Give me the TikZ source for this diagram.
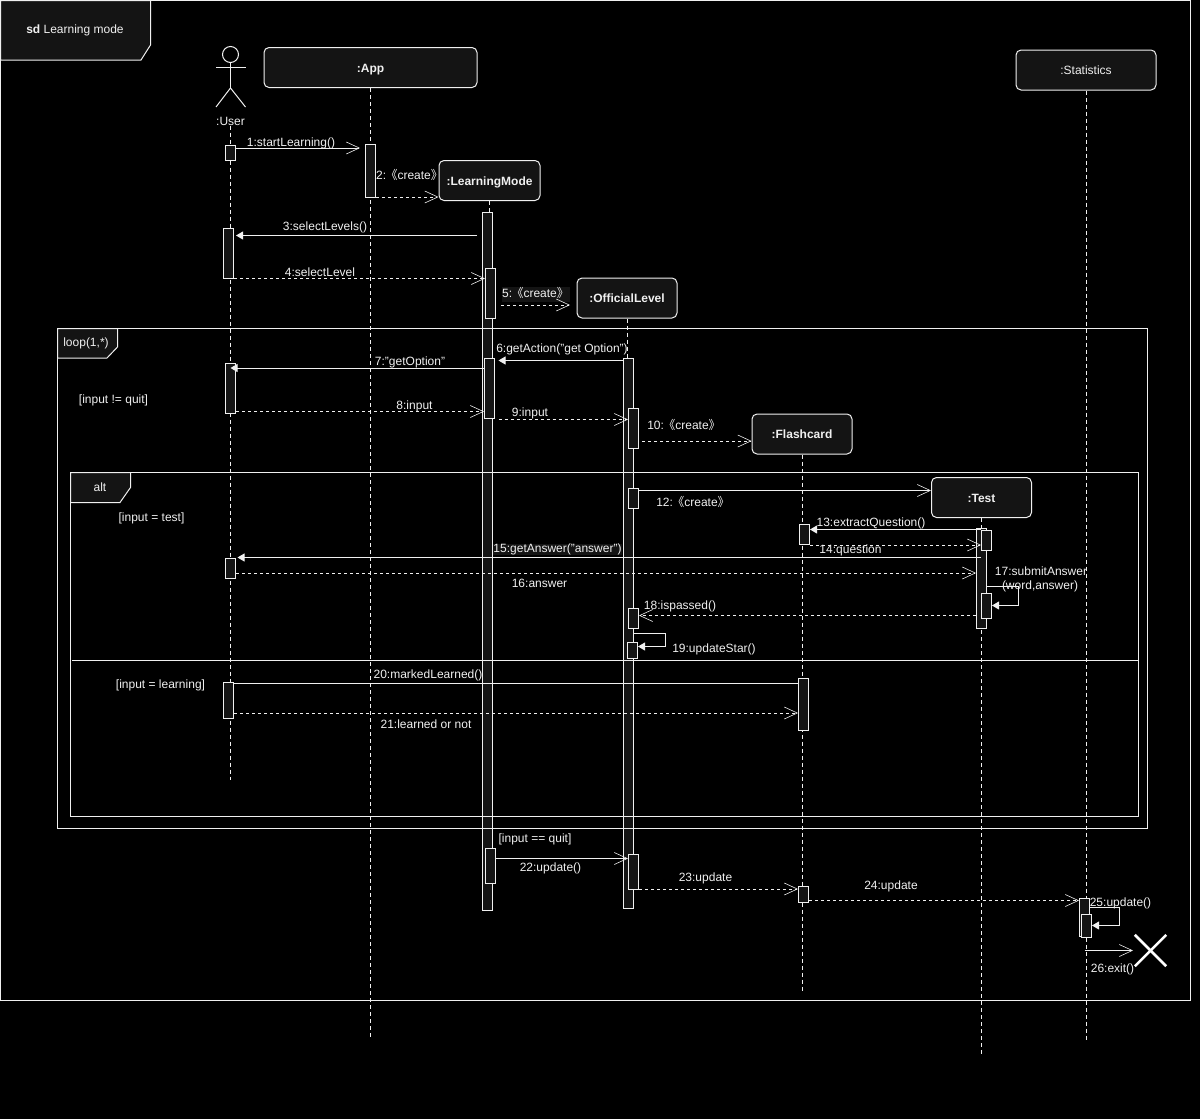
\documentclass[tikz,border=0pt]{standalone}
\usepackage{fontspec}
\setmainfont{Liberation Sans}
\newfontfamily\cjk{Noto Sans CJK SC}
\usetikzlibrary{arrows.meta}
\usetikzlibrary{positioning}
\definecolor{panel}{HTML}{141414}
\definecolor{ink}{HTML}{F0F0F0}
\newcommand{\crt}{\kern-5pt{\cjk《}create{\cjk》}}
\tikzset{
  head/.style={rectangle, rounded corners=5pt, draw=ink, fill=panel, text=ink, line width=1pt,
    font=\fontsize{12}{14}\selectfont\bfseries, inner sep=0pt, text height=9.2pt, text depth=0pt},
  actbar/.style={rectangle, draw=ink, fill=panel, minimum width=10pt, inner sep=0pt, line width=1pt},
  lbl/.style={text=ink, font=\fontsize{12}{14}\selectfont, inner sep=0pt, yshift=-0.7pt},
  lifeline/.style={draw=ink, dash pattern=on 4pt off 3pt, line width=0.8pt},
  sync/.style={draw=ink, line width=1pt, -{Triangle[length=7pt,width=8pt,fill=ink]}},
  async/.style={draw=ink, line width=1pt, -{Straight Barb[length=13pt,width=12pt,line width=0.6pt]}},
  reply/.style={async, dash pattern=on 3pt off 3pt},
  frame/.style={draw=ink, line width=1pt},
  tab/.style={draw=ink, fill=panel, line width=1pt},
}
\begin{document}
\begin{tikzpicture}[x=1pt, y=-1pt]
  \useasboundingbox[fill=black] (0,0) rectangle (1200,1119);
  % participants
  \node[head, minimum width=213pt, minimum height=40pt] (app) at (370.5,67.5) {:App};
  \node[head, minimum width=101pt, minimum height=40pt] (mode) at (489.5,180.5) {:LearningMode};
  \node[head, minimum width=100pt, minimum height=40pt] (level) at (627,298) {:OfficialLevel};
  \node[head, minimum width=100pt, minimum height=40pt] (card) at (802,434) {:Flashcard};
  \node[head, minimum width=100pt, minimum height=40pt] (test) at (981.5,497.5) {:Test};
  \node[head, minimum width=140pt, minimum height=40pt, font=\fontsize{12}{14}\selectfont] (stats) at (1086,70) {:Statistics};
  % actor
  \node[circle, draw=ink, line width=1pt, minimum size=16pt, inner sep=0pt] (userhead) at (230.5,54.5) {};
  \coordinate (userneck) at (230.5,88);
  \draw[frame] (userhead.south) -- (userneck);
  \draw[frame] (216,67) -- (245.5,67);
  \draw[frame] (216,107) -- (userneck) -- (245.5,107);
  \node[lbl] (user) at (230.5,120.5) {:User};
  % lifeline ends
  \coordinate (userend) at (230,780);
  \coordinate (append) at (370.5,1037);
  \coordinate (modeend) at (489.5,212);
  \coordinate (levelend) at (627,358);
  \coordinate (cardend) at (802,992);
  \coordinate (testend) at (981.5,1055);
  \coordinate (statsend) at (1086,1040);
  \draw[lifeline] (user.south -| userend) -- (userend);
  \draw[lifeline] (app) -- (append);
  \draw[lifeline] (mode) -- (modeend);
  \draw[lifeline] (level) -- (levelend);
  \draw[lifeline] (card) -- (cardend);
  \draw[lifeline] (test) -- (testend);
  \draw[lifeline] (stats) -- (statsend);
  % activation bars
  \node[actbar, minimum height=15pt] (u1) at (230.5,152.5) {};
  \node[actbar, minimum height=50pt] (u2) at (228.5,253) {};
  \node[actbar, minimum height=50pt] (u3) at (230.5,388) {};
  \node[actbar, minimum height=20pt] (u4) at (230.5,568) {};
  \node[actbar, minimum height=36pt] (u5) at (228.5,700) {};
  \node[actbar, minimum height=53pt] (a1) at (370.5,170.5) {};
  \node[actbar, minimum height=698pt] (m0) at (487.5,561) {};
  \node[actbar, minimum height=50pt] (m1) at (490.5,293) {};
  \node[actbar, minimum height=60pt] (m2) at (489.5,388) {};
  \node[actbar, minimum height=35pt] (m3) at (490.5,866) {};
  \node[actbar, minimum height=550pt] (l0) at (628.5,633) {};
  \node[actbar, minimum height=40pt] (l1) at (633.5,428) {};
  \node[actbar, minimum height=20pt] (l2) at (633.5,498.5) {};
  \node[actbar, minimum height=20pt] (l3) at (633.5,618.5) {};
  \node[actbar, minimum height=16pt] (l4) at (632.5,650.5) {};
  \node[actbar, minimum height=35pt] (l5) at (633.5,872) {};
  \node[actbar, minimum height=20pt] (c1) at (804.5,534.5) {};
  \node[actbar, minimum height=52pt] (c2) at (803.5,704) {};
  \node[actbar, minimum height=16pt] (c3) at (803.5,894) {};
  \node[actbar, minimum height=100pt] (t0) at (981.5,578.5) {};
  \node[actbar, minimum height=20pt] (t1) at (986.5,540.5) {};
  \node[actbar, minimum height=25pt] (t2) at (986.5,606) {};
  \node[actbar, minimum height=38pt] (s0) at (1084.5,917.5) {};
  \node[actbar, minimum height=23pt] (s1) at (1086.5,926) {};
  % frames
  \draw[frame] (0.5,0.5) rectangle (1190.5,1000);
  \draw[frame] (57.5,328.5) rectangle (1147,828);
  \draw[frame] (70.5,472.5) rectangle (1138,816);
  \coordinate (sep1) at (72,660.5);
  \coordinate (sep2) at (1138,660.5);
  \draw[frame] (sep1) -- (sep2);
  \draw[tab] (0.5,0.5) -- (150.5,0.5) -- (150.5,45) -- (141,60) -- (0.5,60) -- cycle;
  \draw[tab] (57.5,328.5) -- (117.5,328.5) -- (117.5,347) -- (107,358) -- (57.5,358) -- cycle;
  \draw[tab] (70.5,472.5) -- (130.5,472.5) -- (130.5,487.5) -- (120,502.5) -- (70.5,502.5) -- cycle;
  \node[lbl] (title) at (75,30) {\textbf{sd} Learning mode};
  \node[lbl] (looplbl) at (86,342.5) {loop(1,*)};
  \node[lbl] (altlbl) at (100,487) {alt};
  % message rows
  \foreach \row/\ypos in {r1/148,r2/197,r3/235.5,r4/278.5,r5/305,r6/360.5,r7/368,r8/411.5,r9/419.5,
      r10/441,r12/490.5,r13/529.5,r14/545,r15/557.5,r16/573,r18/615.5,r20/683.5,r21/713,
      r22/858.5,r23/889,r24/900.5,r26/950.5}
    \coordinate (\row) at (0,\ypos);
  % messages
  \draw[async, shorten >=5pt] (u1.east |- r1) -- (a1.west |- r1);
  \draw[reply] (a1.east |- r2) -- (mode.west |- r2);
  \draw[sync, shorten <=5pt, shorten >=2pt] (m0.west |- r3) -- (u2.east |- r3);
  \draw[reply] (u2.east |- r4) -- (m1.west |- r4);
  \node[lbl, fill=panel, minimum width=68pt, minimum height=15pt] (t5box) at (536,293.5) {};
  \node[lbl] (t5lbl) at (535.5,292.5) {5: \crt};
  \coordinate (r5end) at (570,305);
  \draw[reply, shorten <=5pt] (m1.east |- r5) -- (r5end);
  \draw[sync, shorten >=3.5pt] (l0.west |- r6) -- (m2.east |- r6);
  \draw[sync] (m2.west |- r7) -- (u3 |- r7);
  \draw[reply] (u3.east |- r8) -- (m2.west |- r8);
  \draw[reply, shorten <=3.5pt] (m2.east |- r9) -- (l1.west |- r9);
  \draw[reply, shorten <=3pt] (l1.east |- r10) -- (card.west |- r10);
  \draw[async] (l2.east |- r12) -- (test.west |- r12);
  \draw[sync] (t1.west |- r13) -- (c1.east |- r13);
  \draw[reply] (c1.east |- r14) -- (t1.west |- r14);
  \draw[sync, shorten >=1.5pt] (t1.west |- r15) -- (u4.east |- r15);
  \draw[reply] (u4.east |- r16) -- (t0.west |- r16);
  \draw[reply] (t0.west |- r18) -- (l3.east |- r18);
  \draw[draw=ink, line width=1pt] (c2.west |- r20) -- (u5.east |- r20);
  \draw[reply] (u5.east |- r21) -- (c2.west |- r21);
  \draw[async] (m3.east |- r22) -- (l5.west |- r22);
  \draw[reply] (l5.east |- r23) -- (c3.west |- r23);
  \draw[reply] (c3.east |- r24) -- (s0.west |- r24);
  \coordinate (r26end) at (1133,950.5);
  \draw[async] (s0 |- r26) -- (r26end);
  % self calls
  \coordinate (b17) at (1018.5,586.5);
  \coordinate (c17) at (1018.5,605.5);
  \draw[sync] (t0.east |- b17) -- (b17) -- (c17) -- (t2.east |- c17);
  \coordinate (b19) at (665.5,633.5);
  \coordinate (c19) at (665.5,646.5);
  \draw[sync] (l0.east |- b19) -- (b19) -- (c19) -- (l4.east |- c19);
  \coordinate (b25) at (1119,907.5);
  \coordinate (c25) at (1119,925.5);
  \draw[sync] (s0.east |- b25) -- (b25) -- (c25) -- (s1.east |- c25);
  % destruction
  \node[minimum size=31pt, inner sep=0pt] (kill) at (1150.5,950.5) {};
  \draw[draw=white, line width=2.5pt] (kill.north west) -- (kill.south east);
  \draw[draw=white, line width=2.5pt] (kill.north east) -- (kill.south west);
  % labels
  \node[lbl] (t1lbl) at (291,143) {1:startLearning()};
  \node[lbl] (t2lbl) at (409.5,174) {2: \crt};
  \node[lbl] (t3lbl) at (325,226.5) {3:selectLevels()};
  \node[lbl] (t4lbl) at (320,272) {4:selectLevel};
  \node[lbl] (t6lbl) at (562,349) {6:getAction("get Option")};
  \node[lbl] (t7lbl) at (410,362) {7:"getOption"};
  \node[lbl] (t8lbl) at (414.5,406) {8:input};
  \node[lbl] (t9lbl) at (530,413) {9:input};
  \node[lbl] (t10lbl) at (684,424) {10: \crt};
  \node[lbl] (t12lbl) at (693,501.5) {12: \crt};
  \node[lbl] (t13lbl) at (871,523) {13:extractQuestion()};
  \node[lbl] (t14lbl) at (850.5,550) {14:question};
  \node[lbl, fill=panel] (t15lbl) at (557.5,549) {15:getAnswer("answer")};
  \node[lbl] (t16lbl) at (539.5,582.5) {16:answer};
  \node[lbl] (t17lbl) at (1041,570.5) {17:submitAnswer};
  \node[lbl] (t17sub) at (1040,586) {(word,answer)};
  \node[lbl] (t18lbl) at (680,606) {18:ispassed()};
  \node[lbl] (t19lbl) at (714,649) {19:updateStar()};
  \node[lbl] (t20lbl) at (428,675) {20:markedLearned()};
  \node[lbl] (t21lbl) at (426,724) {21:learned or not};
  \node[lbl] (t22lbl) at (550.5,868) {22:update()};
  \node[lbl] (t23lbl) at (705.5,878) {23:update};
  \node[lbl] (t24lbl) at (891,886) {24:update};
  \node[lbl] (t25lbl) at (1120.5,902.5) {25:update()};
  \node[lbl] (t26lbl) at (1112.5,969) {26:exit()};
  % guards
  \node[lbl] (g1) at (113.5,399.5) {[input != quit]};
  \node[lbl] (g2) at (151.5,517.5) {[input = test]};
  \node[lbl] (g3) at (160.5,684.5) {[input = learning]};
  \node[lbl] (g4) at (535,839) {[input == quit]};
\end{tikzpicture}
\end{document}
